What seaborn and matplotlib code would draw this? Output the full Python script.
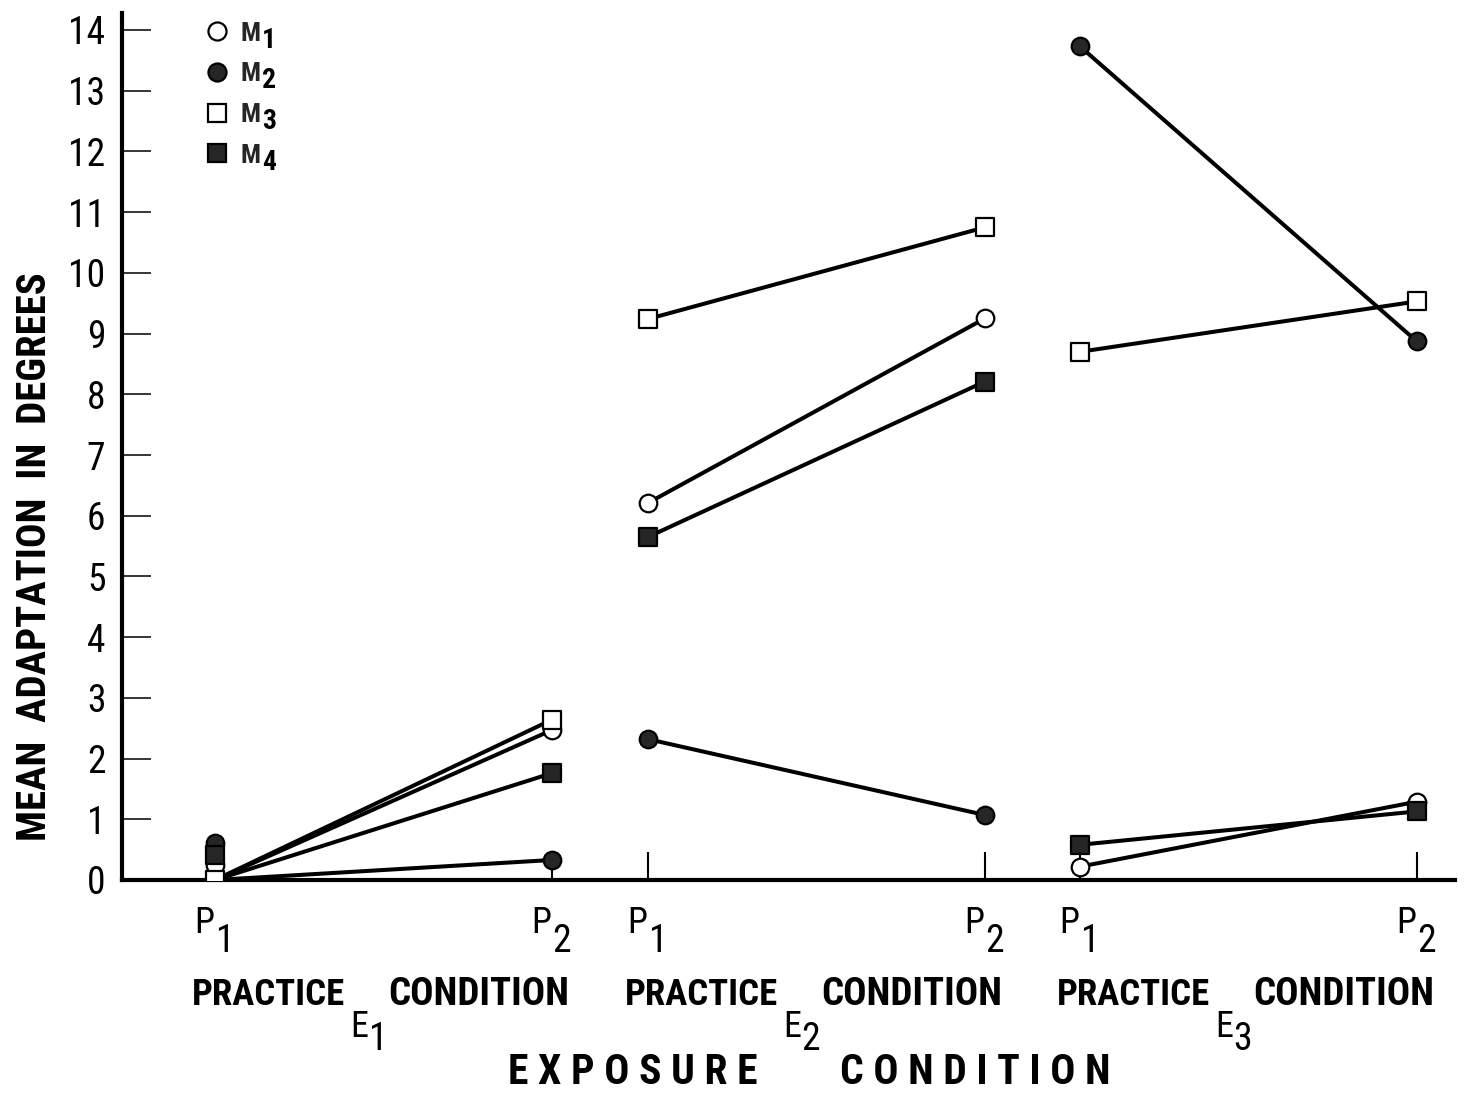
import matplotlib
matplotlib.use("Agg")
import matplotlib.pyplot as plt
from matplotlib.lines import Line2D
from matplotlib import font_manager
from matplotlib.font_manager import FontProperties
from matplotlib.textpath import TextPath
import pandas as pd
import seaborn as sns

# ---- data -------------------------------------------------------------
exposure_conditions = ["E1", "E2", "E3"]
exposure_digits = ["1", "2", "3"]
practice_conditions = ["P1", "P2"]
practice_digits = ["1", "2"]
series_names = ["M1", "M2", "M3", "M4"]
series_digits = ["1", "2", "3", "4"]

# mean adaptation in degrees, ordered E1-P1, E1-P2, E2-P1, E2-P2, E3-P1, E3-P2
m1_values = [0.25, 2.47, 6.21, 9.25, 0.22, 1.29]
m2_values = [0.61, 0.33, 2.32, 1.07, 13.73, 8.87]
m3_values = [0.00, 2.64, 9.24, 10.75, 8.70, 9.53]
m4_values = [0.41, 1.76, 5.65, 8.21, 0.58, 1.13]

# under E1 all connecting lines leave the baseline at P1
e1_line_start = 0.0

y_ticks = list(range(0, 15))

# ---- layout -----------------------------------------------------------
DPI = 100
group_offsets = [0.0, 1.285, 2.567]
practice_step = 1.0

rows = []
for name, vals in zip(series_names, [m1_values, m2_values, m3_values, m4_values]):
    k = 0
    for g, e in enumerate(exposure_conditions):
        for p_i, p in enumerate(practice_conditions):
            rows.append({"series": name, "exposure": e, "practice": p,
                         "x": group_offsets[g] + p_i * practice_step,
                         "value": vals[k]})
            k += 1
points = pd.DataFrame(rows)

lines = points.copy()
e1_start = (lines["exposure"] == "E1") & (lines["practice"] == "P1")
lines.loc[e1_start, "value"] = e1_line_start

sns.set_theme(style="white")

# narrowest sans family on hand for the lettering
available = {f.name for f in font_manager.fontManager.ttflist}
family = "DejaVu Sans"
for cand in ["Liberation Sans Narrow", "Roboto Condensed", "Open Sans Condensed",
             "Roboto", "Liberation Sans"]:
    if cand in available:
        family = cand
        break
plt.rcParams["font.family"] = [family, "DejaVu Sans"]


def fitted_size(text, width_px, weight="normal", max_size=30):
    """Font size (pt) at which `text` spans about `width_px` pixels."""
    fp = FontProperties(family=[family, "DejaVu Sans"], weight=weight, size=10)
    w = TextPath((0, 0), text, prop=fp).get_extents().width
    size = 10 * (width_px * 72 / DPI) / w
    return min(size, max_size)


fig = plt.figure(figsize=(14.64, 10.94), dpi=DPI)
ax = fig.add_axes([122 / 1464, 214 / 1094, (1455 - 122) / 1464, (880 - 13) / 1094])

ink = "black"
dark = "#262626"
marker_styles = {
    "M1": dict(marker="o", color="white", s=160),
    "M2": dict(marker="o", color=dark, s=160),
    "M3": dict(marker="s", color="white", s=180),
    "M4": dict(marker="s", color=dark, s=180),
}

for name in series_names:
    sns.lineplot(data=lines[lines["series"] == name], x="x", y="value",
                 units="exposure", estimator=None, sort=False,
                 color=ink, linewidth=2.9, ax=ax, legend=False, zorder=2)

for name in series_names:
    st = marker_styles[name]
    sns.scatterplot(data=points[points["series"] == name], x="x", y="value",
                    marker=st["marker"], s=st["s"], color=st["color"],
                    edgecolor=ink, linewidth=1.6, ax=ax, legend=False,
                    zorder=3)

ax.set_xlim(-0.276, 3.680)
ax.set_ylim(0, 14.28)
ax.set_xlabel("")

sns.despine(ax=ax)
for side in ("left", "bottom"):
    ax.spines[side].set_linewidth(3)
    ax.spines[side].set_color(ink)

tick_size = fitted_size("10", 34, max_size=27)
ax.set_yticks(y_ticks)
ax.set_yticklabels([str(t) for t in y_ticks])
ax.tick_params(axis="y", direction="in", length=21, width=1.1, pad=12,
               labelsize=tick_size, colors=ink, left=True)
ax.set_xticks(points["x"].unique())
ax.tick_params(axis="x", direction="in", length=20, width=1.5,
               labelbottom=False, colors=ink, bottom=True)

ylab = "MEAN  ADAPTATION  IN  DEGREES"
ax.set_ylabel(ylab, fontsize=fitted_size(ylab, 565, "bold", 31),
              fontweight="bold", color=ink)
ax.yaxis.label.set_va("center")
ax.yaxis.set_label_coords(-0.0653, 0.3725)

xform = ax.get_xaxis_transform()

# practice labels P1 / P2 under each position
p_size = fitted_size("P", 18, max_size=26)
for g in range(len(exposure_conditions)):
    for p_i, digit in enumerate(practice_digits):
        xp = group_offsets[g] + p_i * practice_step
        ax.annotate("P", xy=(xp, 0), xycoords=xform, xytext=(-1, -53),
                    textcoords="offset pixels", ha="right", va="baseline",
                    fontsize=p_size, color=ink, annotation_clip=False)
        ax.annotate(digit, xy=(xp, 0), xycoords=xform, xytext=(0, -72),
                    textcoords="offset pixels", ha="left", va="baseline",
                    fontsize=p_size * 1.05, color=ink, annotation_clip=False)

# "PRACTICE  E_n  CONDITION" beneath each exposure group
prac_size = fitted_size("PRACTICE", 150, "bold", 29)
cond_size = fitted_size("CONDITION", 177, "bold", 29)
for g, digit in enumerate(exposure_digits):
    mid = group_offsets[g] + practice_step / 2
    ax.annotate("PRACTICE", xy=(mid, 0), xycoords=xform, xytext=(-38, -125),
                textcoords="offset pixels", ha="right", va="baseline",
                fontsize=prac_size, fontweight="bold", color=ink,
                annotation_clip=False)
    ax.annotate("CONDITION", xy=(mid, 0), xycoords=xform, xytext=(5, -125),
                textcoords="offset pixels", ha="left", va="baseline",
                fontsize=cond_size, fontweight="bold", color=ink,
                annotation_clip=False)
    e_txt = ax.annotate("E", xy=(mid, 0), xycoords=xform, xytext=(-33, -157),
                        textcoords="offset pixels", ha="left", va="baseline",
                        fontsize=p_size, color=ink, annotation_clip=False)
    ax.annotate(digit, xy=(1, 0), xycoords=e_txt, xytext=(0, -13),
                textcoords="offset pixels", ha="left", va="bottom",
                fontsize=p_size * 1.05, color=ink, annotation_clip=False)

exp_txt = "E X P O S U R E"
cnd_txt = "C O N D I T I O N"
fig.text(508 / 1464, 1 / 1094, exp_txt, ha="left", va="bottom",
         fontsize=fitted_size(exp_txt, 257, "bold", 30), fontweight="bold",
         color=ink)
fig.text(1110 / 1464, 1 / 1094, cnd_txt, ha="right", va="bottom",
         fontsize=fitted_size(cnd_txt, 272, "bold", 30), fontweight="bold",
         color=ink)

# legend: marker keys with "M" labels, subscript digits beside them
m_size = 19
handles = []
for name in series_names:
    st = marker_styles[name]
    handles.append(Line2D([], [], linestyle="none", marker=st["marker"],
                          markersize=13 if st["marker"] == "o" else 12.5,
                          markerfacecolor=st["color"], markeredgecolor=ink,
                          markeredgewidth=1.6))
leg = ax.legend(handles, ["M"] * len(series_names), loc="upper left",
                bbox_to_anchor=(0.0623, 0.990), frameon=False,
                borderaxespad=0, borderpad=0, handlelength=0.9,
                handletextpad=0.45, labelspacing=0.63,
                prop={"size": m_size, "weight": "bold"})
leg.set_zorder(5)
for txt, digit in zip(leg.get_texts(), series_digits):
    ax.annotate(digit, xy=(1, 0), xycoords=txt, xytext=(1, -8),
                textcoords="offset pixels", ha="left", va="bottom",
                fontsize=20, fontweight="bold", color=ink,
                annotation_clip=False, zorder=8)

fig.savefig("out.png", dpi=DPI)
